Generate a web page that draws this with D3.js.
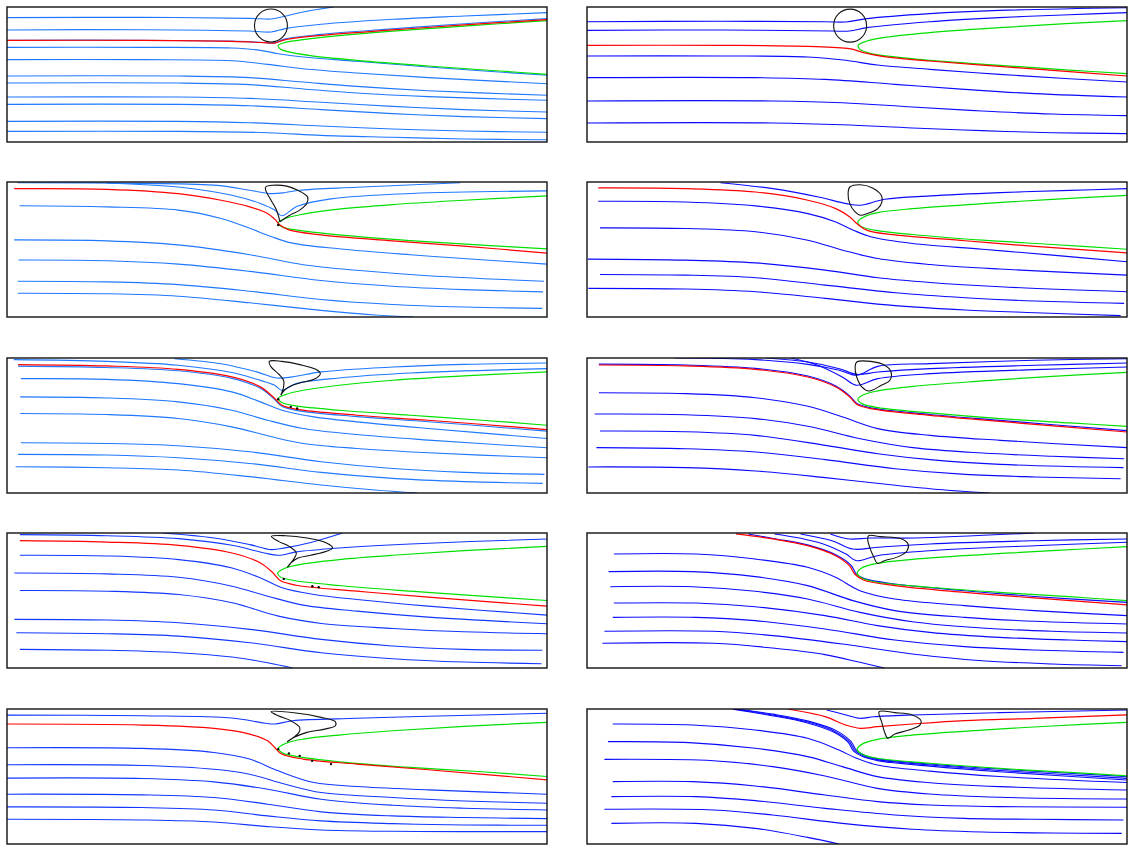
<!DOCTYPE html>
<html>
<head>
<meta charset="utf-8">
<script src="https://cdn.jsdelivr.net/npm/d3@7"></script>
<style>
  html, body { margin: 0; padding: 0; background: #fff; }
  svg { display: block; }
</style>
</head>
<body>
<svg id="chart" width="1128" height="847"></svg>
<script>
// Streamline snapshots of a channel flow past a drop: ten frames, x in [0,40], y in [0,10].
// Each line is a list of [x, y] samples; "drop" is the interface outline.

// ---- frame 1 ----
const p1Blue = [
  [[0,9.21],[10.03,9.23],[17.97,9.16],[19.56,9.11],[20.34,9.26],[21.94,9.63],[24.2,10.0]],
  [[0,8.30],[10.03,8.32],[17.97,8.22],[19.56,8.15],[20.62,8.40],[23.27,8.72],[28.56,9.09],[33.86,9.33],[40,9.58]],
  [[0,7.54],[10.03,7.54],[16.65,7.47],[19.03,7.37],[19.83,7.34],[20.62,7.64],[23.27,7.97],[28.56,8.38],[33.86,8.76],[40,9.14]],
  [[0,7.01],[10.03,7.01],[16.65,6.96],[18.77,6.79],[20.09,6.54],[21.94,6.30],[25.9,5.98],[31.21,5.56],[40,4.94]],
  [[0,6.10],[10.03,6.10],[16.65,6.02],[19.3,5.75],[21.94,5.43],[25.9,5.11],[31.21,4.77],[40,4.32]],
  [[0,4.89],[12.68,4.89],[17.97,4.77],[21.94,4.44],[25.9,4.12],[31.21,3.80],[40,3.46]],
  [[0,4.37],[12.68,4.37],[17.97,4.25],[21.94,3.93],[25.9,3.63],[31.21,3.36],[40,3.09]],
  [[0,3.33],[12.68,3.33],[17.97,3.23],[23.27,2.94],[28.56,2.64],[33.86,2.40],[40,2.22]],
  [[0,2.79],[12.68,2.79],[17.97,2.69],[23.27,2.40],[28.56,2.10],[33.86,1.88],[40,1.73]],
  [[0,1.53],[12.68,1.53],[17.97,1.43],[23.27,1.19],[28.56,0.96],[33.86,0.81],[40,0.72]],
  [[0,0.79],[12.68,0.79],[19.3,0.69],[23.27,0.49],[28.56,0.35],[33.86,0.22],[40,0.17]]
];
const p1Red = [[0,7.53],[10.03,7.53],[16.65,7.46],[19.03,7.36],[19.83,7.33],[20.62,7.58],[23.27,7.90],[28.56,8.30],[33.86,8.67],[40,9.06]];
const p1Green = [[40,8.99],[33.86,8.59],[28.56,8.22],[24.59,7.88],[21.94,7.58],[20.62,7.38],[20.09,7.16],[20.22,6.91],[20.88,6.67],[22.47,6.40],[25.9,6.05],[31.21,5.63],[36.5,5.26],[40,5.01]];
const p1Bubble = [19.55, 8.63, 1.22];

// ---- frame 2 ----
const p2Blue = [
  [[0,8.91],[9.88,8.94],[17.63,8.91],[19.18,8.89],[20.74,9.14],[25.39,9.51],[30.56,9.75],[40,9.95]],
  [[0,8.27],[9.88,8.30],[18.15,8.22],[19.44,8.22],[20.73,8.47],[25.39,8.91],[30.56,9.21],[35.73,9.43],[40,9.58]],
  [[0,6.37],[9.88,6.37],[16.34,6.30],[19.18,6.05],[21.51,5.70],[25.39,5.38],[30.56,5.01],[35.73,4.69],[40,4.44]],
  [[0,4.77],[12.46,4.77],[17.63,4.64],[22.8,4.27],[27.97,3.90],[33.14,3.58],[40,3.33]],
  [[0,3.04],[13.75,3.04],[18.92,2.91],[24.1,2.59],[29.27,2.30],[34.44,2.07],[40,1.95]],
  [[0,1.41],[13.75,1.41],[18.92,1.28],[24.1,1.04],[29.27,0.84],[34.44,0.69],[40,0.62]]
];
const p2Red = [[0,7.16],[9.88,7.16],[16.34,7.09],[19.44,6.91],[20.48,6.62],[22.03,6.32],[25.39,6.0],[30.56,5.60],[35.73,5.21],[40,4.89]];
const p2Green = [[40,8.99],[35.47,8.77],[30.56,8.47],[25.39,8.10],[22.29,7.78],[20.74,7.48],[20.09,7.16],[20.22,6.86],[20.99,6.57],[22.8,6.30],[25.39,6.05],[30.56,5.68],[35.73,5.33],[40,5.06]];
const p2Bubble = [19.49, 8.62, 1.22];

// ---- frame 3 ----
const p3Blue = [
  [[0.79,9.95],[10.04,9.90],[15.6,9.75],[17.98,9.39],[19.56,9.14],[20.62,9.22],[21.68,9.39],[25.9,9.61],[33.57,9.95]],
  [[7.40,9.93],[12.69,9.63],[16.65,9.02],[18.77,8.41],[19.83,7.92],[20.35,7.5],[21.5,8.2],[24.0,8.75],[30.0,9.15],[40,9.34]],
  [[0.93,8.24],[7.40,8.16],[12.69,7.92],[15.86,7.30],[17.98,6.57],[19.56,5.96],[21.15,5.47],[24.58,5.05],[29.87,4.61],[35.16,4.24],[40,3.92]],
  [[0.53,5.71],[7.40,5.64],[12.69,5.34],[17.98,4.61],[21.94,3.87],[25.9,3.46],[31.19,3.06],[39.78,2.65]],
  [[0.85,4.22],[7.40,4.17],[12.69,3.92],[17.98,3.38],[23.26,2.70],[28.55,2.28],[33.84,2.03],[39.70,1.86]],
  [[0.79,2.65],[7.40,2.60],[12.69,2.40],[17.98,1.91],[23.26,1.30],[28.55,0.93],[33.84,0.74],[39.65,0.64]],
  [[0.79,1.76],[7.40,1.72],[12.69,1.54],[17.98,1.05],[23.26,0.49],[27.23,0.15],[30.14,0]]
];
const p3Red = [[0.53,9.51],[7.40,9.46],[12.69,9.14],[15.86,8.65],[17.98,8.16],[19.30,7.67],[19.83,7.25],[20.22,6.81],[20.88,6.45],[23.26,6.08],[28.55,5.64],[33.84,5.25],[40,4.73]];
const p3Green = [[40,8.97],[33.84,8.65],[28.55,8.33],[24.58,7.99],[21.94,7.62],[20.62,7.30],[20.09,6.99],[20.35,6.69],[21.41,6.45],[24.58,6.08],[29.87,5.66],[35.16,5.32],[40,5.05]];
const p3Drop = [[20.22,7.05],[19.96,7.92],[19.56,8.65],[19.16,9.39],[19.16,9.63],[20.35,9.75],[21.54,9.39],[22.26,8.90],[22.2,8.41],[21.68,7.92],[20.88,7.50],[20.22,7.05]];
const p3Dots = [[20.09,6.81]];

// ---- frame 4 ----
const p4Blue = [
  [[9.89,9.95],[13.77,9.51],[17.14,8.89],[19.21,8.40],[20.24,8.28],[22.06,8.72],[25.42,8.97],[30.6,9.21],[35.78,9.38],[40,9.51]],
  [[0.83,8.57],[7.30,8.52],[12.48,8.23],[16.36,7.66],[18.43,7.04],[19.73,6.43],[21.02,5.94],[24.13,5.44],[29.3,5.02],[34.48,4.58],[40,4.09]],
  [[0.96,6.60],[7.30,6.55],[12.48,6.31],[16.36,5.69],[18.95,4.95],[21.54,4.33],[25.42,3.89],[30.6,3.55],[40,3.10]],
  [[0.05,4.29],[7.30,4.21],[12.48,4.01],[17.65,3.47],[21.54,2.91],[25.42,2.56],[30.6,2.24],[40,1.87]],
  [[0.96,3.15],[7.30,3.10],[12.48,2.91],[17.65,2.36],[22.83,1.80],[28.01,1.43],[33.19,1.18],[39.79,1.01]],
  [[0.10,2.12],[7.30,2.07],[12.48,1.87],[17.65,1.38],[22.83,0.84],[28.01,0.52],[33.19,0.32],[39.53,0.10]]
];
const p4Red = [[0.83,9.56],[7.30,9.51],[12.48,9.26],[16.36,8.65],[18.43,8.03],[19.47,7.41],[19.98,6.92],[20.76,6.42],[22.83,6.08],[28.01,5.65],[33.19,5.23],[40,4.75]];
const p4Green = [[40,9.01],[34.48,8.72],[29.3,8.40],[24.13,8.03],[21.54,7.73],[20.5,7.41],[20.06,7.04],[20.24,6.75],[21.28,6.43],[24.13,6.11],[29.3,5.69],[34.48,5.37],[40,5.02]];
const p4Drop = [[19.47,9.63],[20.24,9.80],[21.15,9.56],[21.8,9.01],[21.85,8.52],[21.54,8.03],[20.76,7.66],[20.24,7.54],[19.86,7.78],[19.47,8.40],[19.34,9.14]];

// ---- frame 5 ----
const p5Blue = [
  [[0.5,9.88],[7.38,9.75],[12.68,9.46],[16.65,8.92],[18.5,8.42],[19.83,7.98],[20.36,7.61],[21.41,8.10],[24.59,8.52],[29.88,8.89],[40,9.21]],
  [[12.41,9.95],[15.85,9.58],[18.5,8.97],[19.96,8.52],[21.15,8.60],[23.27,8.97],[28.56,9.33],[33.85,9.53],[40,9.63]],
  [[0.82,9.40],[7.38,9.30],[12.68,9.05],[16.65,8.49],[18.77,7.76],[19.83,6.92],[20.36,6.42],[21.41,6.12],[25.91,5.66],[31.21,5.28],[40,4.58]],
  [[1.03,8.47],[7.38,8.42],[12.68,8.10],[16.65,7.49],[18.77,6.75],[20.36,6.13],[22.74,5.64],[25.91,5.27],[31.21,4.78],[40,4.04]],
  [[0.98,7.12],[7.38,7.04],[12.68,6.75],[16.65,6.13],[19.3,5.39],[21.94,4.78],[25.91,4.33],[31.21,3.92],[40,3.35]],
  [[0.98,5.89],[7.38,5.81],[12.68,5.52],[16.65,4.90],[19.3,4.24],[21.94,3.67],[25.91,3.30],[31.21,2.98],[40,2.61]],
  [[1.03,3.72],[7.38,3.67],[12.68,3.50],[17.97,3.05],[23.27,2.32],[28.56,1.82],[33.85,1.53],[39.81,1.38]],
  [[0.82,2.86],[7.38,2.81],[12.68,2.61],[17.97,2.19],[23.27,1.53],[28.56,1.08],[33.85,0.84],[39.68,0.71]],
  [[0.64,1.95],[7.38,1.87],[12.68,1.70],[17.97,1.21],[23.27,0.59],[27.24,0.22],[30.41,0]]
];
const p5Red = [[0.82,9.51],[7.38,9.41],[12.68,9.16],[16.65,8.60],[18.77,7.86],[19.83,7.00],[20.36,6.50],[21.41,6.21],[25.91,5.76],[31.21,5.39],[40,4.70]];
const p5Green = [[40,8.97],[33.85,8.67],[28.56,8.35],[24.59,7.98],[21.94,7.61],[20.62,7.29],[20.09,7.00],[20.36,6.70],[21.41,6.45],[24.59,6.13],[29.88,5.76],[35.17,5.39],[40,5.02]];
const p5Drop = [[20.28,7.24],[20.49,7.86],[20.49,8.35],[20.09,8.84],[19.56,9.34],[19.43,9.75],[20.35,9.75],[21.68,9.51],[22.87,9.16],[23.21,8.84],[22.74,8.42],[21.81,8.18],[21.02,7.93],[20.54,7.61],[20.28,7.24]];
const p5Dots = [[20.09,6.95],[21.02,6.38],[21.49,6.26]];

// ---- frame 6 ----
const p6Blue = [
  [[6.52,10.0],[12.48,9.88],[16.36,9.53],[18.69,9.09],[19.98,8.72],[21.54,9.38],[25.42,9.58],[33.19,9.83],[40,9.95]],
  [[13.25,10.0],[16.36,9.70],[18.69,9.21],[19.98,8.79],[21.54,8.96],[25.42,9.21],[33.19,9.46],[40,9.63]],
  [[15.07,10.0],[17.0,9.5],[18.9,8.6],[19.98,7.98],[21.54,8.47],[25.42,8.84],[33.19,9.14],[40,9.33]],
  [[0.88,9.55],[7.30,9.48],[12.48,9.23],[16.36,8.66],[18.43,7.92],[19.47,7.18],[19.98,6.64],[21.02,6.32],[25.42,5.82],[30.6,5.38],[40,4.62]],
  [[0.88,7.43],[7.30,7.36],[12.48,7.06],[16.36,6.42],[18.95,5.63],[21.54,4.77],[25.42,4.27],[30.6,3.90],[40,3.36]],
  [[0.57,5.85],[7.30,5.80],[12.48,5.51],[16.36,4.94],[20.24,4.02],[24.13,3.36],[29.3,2.96],[34.48,2.72],[39.79,2.54]],
  [[0.96,4.59],[7.30,4.54],[12.48,4.27],[17.65,3.53],[21.54,2.91],[25.42,2.47],[30.6,2.12],[39.74,1.88]],
  [[0.70,3.36],[7.30,3.28],[12.48,3.04],[17.65,2.47],[22.83,1.80],[28.01,1.38],[33.19,1.19],[39.53,1.06]],
  [[0.10,1.93],[7.30,1.88],[12.48,1.63],[17.65,1.14],[22.83,0.57],[26.71,0.20],[29.82,0]]
];
const p6Red = [[0.88,9.48],[7.30,9.41],[12.48,9.16],[16.36,8.59],[18.43,7.85],[19.47,7.11],[19.98,6.58],[21.02,6.25],[25.42,5.75],[30.6,5.30],[40,4.52]];
const p6Green = [[40,8.94],[34.48,8.64],[29.3,8.30],[24.13,7.90],[21.54,7.56],[20.37,7.23],[20.06,6.91],[20.37,6.62],[21.54,6.32],[25.42,5.93],[30.6,5.51],[35.78,5.19],[40,4.94]];
const p6Drop = [[19.98,9.70],[21.02,9.75],[22.06,9.46],[22.52,8.96],[22.44,8.35],[21.80,7.98],[20.89,7.56],[20.37,7.85],[19.98,8.59],[19.86,9.33]];

// ---- frame 7 ----
const p7Blue = [
  [[0.95,9.88],[7.42,9.80],[12.71,9.58],[16.67,9.09],[19.05,8.52],[20.11,8.35],[21.43,8.60],[24.6,8.89],[29.88,9.19],[40,9.56]],
  [[11.52,10.0],[15.35,9.63],[17.99,9.14],[19.58,8.77],[20.6,8.9],[22.5,9.3],[24.86,10.0]],
  [[0.95,8.35],[7.42,8.30],[12.71,8.03],[16.67,7.41],[18.78,6.67],[20.37,5.94],[22.75,5.44],[25.92,5.07],[31.2,4.58],[40,3.92]],
  [[0.55,7.04],[7.42,6.97],[12.71,6.72],[16.67,6.06],[19.31,5.32],[21.95,4.66],[25.92,4.21],[31.2,3.77],[40,3.28]],
  [[0.95,5.74],[7.42,5.69],[12.71,5.44],[16.67,4.83],[20.11,3.84],[23.28,3.30],[28.56,2.93],[33.84,2.68],[40,2.54]],
  [[0.55,3.60],[7.42,3.55],[12.71,3.35],[17.99,2.86],[23.28,2.12],[28.56,1.63],[33.84,1.38],[39.66,1.31]],
  [[0.69,2.61],[7.42,2.54],[12.71,2.36],[17.99,1.87],[23.28,1.13],[28.56,0.69],[33.84,0.44],[39.6,0.32]],
  [[0.95,1.38],[7.42,1.31],[12.71,1.13],[16.67,0.81],[19.31,0.39],[21.16,0]]
];
const p7Red = [[0.95,9.43],[7.42,9.33],[12.71,9.09],[16.67,8.52],[18.78,7.78],[19.71,7.04],[20.24,6.48],[21.43,6.13],[25.92,5.69],[31.2,5.25],[40,4.58]];
const p7Green = [[40,9.01],[33.84,8.69],[28.56,8.35],[24.6,8.03],[21.95,7.71],[20.63,7.41],[20.05,7.04],[20.24,6.75],[21.16,6.50],[24.6,6.11],[29.88,5.69],[35.17,5.32],[40,5.0]];
const p7Drop = [[20.77,7.46],[21.29,8.15],[21.43,8.52],[20.9,9.01],[20.11,9.38],[19.58,9.75],[20.63,9.80],[22.22,9.63],[23.67,9.26],[24.12,8.89],[23.67,8.65],[22.48,8.35],[21.56,8.15],[21.03,7.78],[20.77,7.46]];
const p7Dots = [[20.5,6.60],[22.62,6.06],[23.09,5.99]];

// ---- frame 8 ----
const p8Blue = [
  [[18.02,9.93],[19.44,9.56],[20.99,9.63],[24.35,9.63],[33.14,10.0]],
  [[15.82,9.93],[18.15,9.43],[19.70,8.81],[21.51,8.94],[25.39,9.19],[33.14,9.43],[40,9.56]],
  [[13.88,9.93],[17.11,9.31],[19.18,8.44],[19.96,7.95],[21.51,8.32],[25.39,8.69],[33.14,9.06],[40,9.31]],
  [[11.94,9.93],[13.9,9.58],[16.4,9.1],[18.5,8.35],[19.56,7.6],[19.95,6.98],[20.55,6.62],[22.8,6.22],[27.97,5.72],[33.14,5.30],[40,4.86]],
  [[1.99,8.44],[8.07,8.44],[12.46,8.07],[16.34,7.46],[18.41,6.72],[20.22,5.73],[22.8,5.11],[27.97,4.62],[33.14,4.25],[40,3.88]],
  [[1.60,7.14],[7.81,7.14],[12.46,6.77],[16.34,6.10],[19.7,4.99],[22.8,4.25],[27.97,3.75],[33.14,3.46],[40,3.26]],
  [[1.73,6.02],[7.81,6.02],[12.46,5.68],[16.34,5.11],[20.22,4.12],[24.1,3.43],[29.27,2.96],[34.44,2.72],[40,2.59]],
  [[1.99,4.81],[8.07,4.81],[12.46,4.54],[17.63,3.88],[21.51,3.14],[25.39,2.64],[30.56,2.27],[35.73,2.07],[40,1.95]],
  [[1.91,3.75],[8.07,3.75],[12.46,3.51],[17.63,2.89],[22.8,2.07],[27.97,1.58],[33.14,1.33],[39.74,1.16]],
  [[1.29,2.72],[9.36,2.72],[13.75,2.40],[18.92,1.78],[24.1,1.04],[29.27,0.54],[34.44,0.30],[39.61,0.17]],
  [[1.14,1.83],[9.36,1.83],[13.75,1.48],[17.63,0.99],[20.22,0.42],[22.03,0]]
];
const p8Red = [[11.04,9.93],[13.75,9.56],[16.34,9.06],[18.41,8.32],[19.44,7.58],[19.83,6.96],[20.48,6.52],[22.8,6.10],[27.97,5.60],[33.14,5.19],[40,4.67]];
const p8Green = [[40,8.99],[34.44,8.69],[29.27,8.40],[24.1,8.05],[21.51,7.75],[20.35,7.41],[20.01,7.01],[20.35,6.67],[21.51,6.35],[25.39,5.98],[30.56,5.60],[35.73,5.28],[40,4.99]];
const p8Drop = [[20.86,9.80],[21.77,9.73],[23.32,9.56],[23.78,9.19],[23.71,8.69],[23.06,8.25],[22.03,7.95],[21.51,7.75],[21.25,8.20],[20.94,8.94],[20.79,9.56]];

// ---- frame 9 ----
const p9Blue = [
  [[0,9.55],[10.03,9.50],[16.65,9.33],[19.03,8.96],[19.83,8.89],[21.15,9.13],[25.91,9.31],[31.21,9.46],[40,9.68]],
  [[0,7.13],[10.03,7.08],[15.33,6.78],[17.97,6.29],[20.09,5.42],[22.74,4.55],[25.91,4.26],[31.21,4.01],[40,3.69]],
  [[0,5.87],[10.03,5.82],[15.33,5.54],[17.97,5.17],[20.62,4.43],[23.27,3.81],[28.56,3.44],[33.85,3.19],[40,3.02]],
  [[0,4.88],[10.03,4.85],[15.33,4.60],[19.3,4.06],[23.27,3.32],[28.56,2.87],[33.85,2.65],[40,2.52]],
  [[0,3.69],[10.03,3.64],[15.33,3.44],[19.3,2.95],[23.27,2.38],[28.56,2.08],[33.85,1.96],[40,1.88]],
  [[0,2.75],[10.03,2.70],[15.33,2.52],[19.3,2.08],[23.27,1.71],[28.56,1.51],[33.85,1.41],[40,1.39]],
  [[0,1.83],[10.03,1.78],[15.33,1.63],[19.3,1.29],[23.27,1.04],[28.56,0.94],[33.85,0.92],[40,0.92]]
];
const p9Red = [[0,8.89],[10.03,8.81],[15.33,8.56],[17.97,8.14],[19.3,7.65],[19.83,7.15],[20.35,6.66],[21.94,6.29],[25.91,5.92],[31.21,5.50],[40,4.75]];
const p9Green = [[40,9.01],[33.85,8.71],[28.56,8.39],[24.59,8.07],[21.94,7.77],[20.62,7.45],[20.09,7.08],[20.35,6.78],[21.41,6.49],[24.59,6.09],[29.88,5.67],[35.17,5.35],[40,5.0]];
const p9Drop = [[20.75,7.57],[21.63,8.27],[21.68,8.64],[21.02,9.13],[20.09,9.50],[19.56,9.80],[21.41,9.70],[23.27,9.38],[24.32,9.06],[24.32,8.76],[23.53,8.51],[22.21,8.27],[21.28,7.90],[20.75,7.57]];
const p9Dots = [[20.09,7.03],[20.88,6.71],[21.68,6.53],[22.6,6.16],[24.0,5.92]];

// ---- frame 10 ----
const p10Blue = [
  [[17.76,9.93],[19.18,9.56],[20.22,9.31],[21.25,9.43],[24.1,9.56],[30.56,9.73],[40,9.93]],
  [[11.2,9.98],[13.9,9.6],[16.4,9.1],[18.5,8.38],[19.55,7.6],[19.95,6.95],[20.55,6.58],[21.6,6.3],[25.4,5.93],[30.56,5.55],[40,4.99]],
  [[11.0,9.98],[13.75,9.56],[16.3,9.05],[18.4,8.32],[19.45,7.56],[19.85,6.92],[20.5,6.52],[21.6,6.23],[25.4,5.85],[30.56,5.45],[40,4.86]],
  [[10.8,9.98],[13.6,9.52],[16.2,9.0],[18.3,8.27],[19.35,7.52],[19.75,6.88],[20.45,6.46],[21.6,6.16],[25.4,5.77],[30.56,5.35],[40,4.74]],
  [[1.91,8.89],[7.81,8.81],[12.46,8.44],[16.34,7.83],[18.67,6.96],[19.96,6.35],[21.51,5.85],[25.39,5.40],[30.56,5.0],[40,4.55]],
  [[1.55,7.58],[7.55,7.51],[12.46,7.09],[16.34,6.47],[18.92,5.73],[21.51,4.99],[25.39,4.54],[30.56,4.25],[40,4.0]],
  [[1.29,6.27],[9.36,6.17],[13.75,5.73],[17.63,5.04],[21.51,4.12],[25.39,3.70],[30.56,3.46],[40,3.33]],
  [[1.91,4.62],[7.81,4.62],[12.46,4.30],[17.63,3.63],[21.51,3.14],[25.39,2.89],[30.56,2.77],[40,2.72]],
  [[1.81,3.51],[8.07,3.51],[12.46,3.21],[17.63,2.64],[22.8,2.15],[27.97,1.90],[33.14,1.83],[39.74,1.78]],
  [[1.29,2.57],[9.36,2.52],[13.75,2.15],[18.92,1.53],[24.1,1.09],[29.27,0.89],[34.44,0.81],[39.61,0.79]],
  [[1.81,1.53],[8.07,1.53],[12.46,1.16],[16.34,0.49],[18.67,0]]
];
const p10Red = [[14.92,9.98],[17.63,9.43],[19.18,8.81],[20.22,8.57],[21.51,8.69],[24.1,8.89],[27.97,9.14],[33.14,9.31],[40,9.56]];
const p10Green = [[40,9.01],[34.44,8.74],[29.27,8.44],[24.1,8.07],[21.51,7.75],[20.35,7.38],[20.01,7.01],[20.35,6.67],[21.51,6.35],[25.39,5.98],[30.56,5.60],[35.73,5.31],[40,5.04]];
const p10Drop = [[21.64,9.80],[22.8,9.73],[24.1,9.56],[24.74,9.14],[24.66,8.81],[23.84,8.44],[22.8,8.15],[22.29,7.83],[22.03,8.32],[21.82,9.06]];

// ---- layout of the ten frames (two columns, five rows) ----
const xDomain = [0, 40];
const yDomain = [0, 10];
const colLeft = [7, 587];
const rowTop = [7, 182, 358, 533, 709];
const frameW = 540, frameH = 135;

const frames = [
  { blue: p1Blue, red: p1Red, green: p1Green, bubble: p1Bubble, col: 0, row: 0, color: "#1f78ff" },
  { blue: p2Blue, red: p2Red, green: p2Green, bubble: p2Bubble, col: 1, row: 0, color: "#0a0aff" },
  { blue: p3Blue, red: p3Red, green: p3Green, drop: p3Drop, open: true, dots: p3Dots, col: 0, row: 1, color: "#1f78ff" },
  { blue: p4Blue, red: p4Red, green: p4Green, drop: p4Drop, col: 1, row: 1, color: "#0a0aff" },
  { blue: p5Blue, red: p5Red, green: p5Green, drop: p5Drop, open: true, dots: p5Dots, col: 0, row: 2, color: "#1f78ff" },
  { blue: p6Blue, red: p6Red, green: p6Green, drop: p6Drop, col: 1, row: 2, color: "#0a0aff" },
  { blue: p7Blue, red: p7Red, green: p7Green, drop: p7Drop, open: true, dots: p7Dots, col: 0, row: 3, color: "#1238ff" },
  { blue: p8Blue, red: p8Red, green: p8Green, drop: p8Drop, col: 1, row: 3, color: "#0a0aff" },
  { blue: p9Blue, red: p9Red, green: p9Green, drop: p9Drop, open: true, dots: p9Dots, col: 0, row: 4, color: "#1238ff" },
  { blue: p10Blue, red: p10Red, green: p10Green, drop: p10Drop, col: 1, row: 4, color: "#0a0aff" }
];

const svg = d3.select("#chart");
const defs = svg.append("defs");

frames.forEach((f, i) => {
  const x0 = colLeft[f.col], y0 = rowTop[f.row];
  const x = d3.scaleLinear().domain(xDomain).range([x0, x0 + frameW]);
  const y = d3.scaleLinear().domain(yDomain).range([y0 + frameH, y0]);

  const clipId = "clip" + i;
  defs.append("clipPath").attr("id", clipId)
    .append("rect").attr("x", x0).attr("y", y0).attr("width", frameW).attr("height", frameH);

  const g = svg.append("g").attr("clip-path", `url(#${clipId})`);
  const line = d3.line().x(d => x(d[0])).y(d => y(d[1])).curve(d3.curveCatmullRom.alpha(0.5));
  const closed = d3.line().x(d => x(d[0])).y(d => y(d[1])).curve(d3.curveCatmullRomClosed.alpha(0.5));

  g.selectAll("path.stream").data(f.blue).join("path")
    .attr("class", "stream")
    .attr("d", line)
    .attr("fill", "none")
    .attr("stroke", f.color)
    .attr("stroke-width", 1.1);

  g.append("path").attr("d", line(f.green))
    .attr("fill", "none").attr("stroke", "#00e000").attr("stroke-width", 1.2);

  g.append("path").attr("d", line(f.red))
    .attr("fill", "none").attr("stroke", "#ff0000").attr("stroke-width", 1.2);

  if (f.bubble) {
    g.append("circle")
      .attr("cx", x(f.bubble[0])).attr("cy", y(f.bubble[1]))
      .attr("r", x(f.bubble[2]) - x(0))
      .attr("fill", "none").attr("stroke", "#111").attr("stroke-width", 1.1);
  }
  if (f.drop) {
    g.append("path").attr("d", (f.open ? line : closed)(f.drop))
      .attr("fill", "none").attr("stroke", "#111").attr("stroke-width", 1.1);
  }
  if (f.dots) {
    g.selectAll("circle.dot").data(f.dots).join("circle")
      .attr("class", "dot")
      .attr("cx", d => x(d[0])).attr("cy", d => y(d[1]))
      .attr("r", 1.2).attr("fill", "#000");
  }

  svg.append("rect")
    .attr("x", x0).attr("y", y0).attr("width", frameW).attr("height", frameH)
    .attr("fill", "none").attr("stroke", "#111").attr("stroke-width", 1.4);
});
</script>
</body>
</html>
